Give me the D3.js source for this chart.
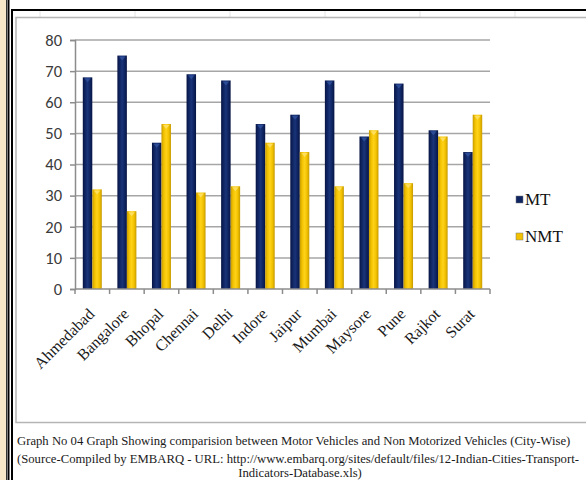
<!DOCTYPE html>
<html>
<head>
<meta charset="utf-8">
<script src="https://cdn.jsdelivr.net/npm/d3@7"></script>
<style>
  html, body { margin: 0; padding: 0; background: #fff; }
  svg { display: block; }
</style>
</head>
<body>
<svg id="chart" width="586" height="480"></svg>
<script>
// City-wise share of motorised (MT) and non-motorised (NMT) trips, in percent
const cities = ["Ahmedabad", "Bangalore", "Bhopal", "Chennai", "Delhi", "Indore",
                "Jaipur", "Mumbai", "Maysore", "Pune", "Rajkot", "Surat"];
const mtValues  = [68, 75, 47, 69, 67, 53, 56, 67, 49, 66, 51, 44];
const nmtValues = [32, 25, 53, 31, 33, 47, 44, 33, 51, 34, 49, 56];
const seriesNames = ["MT", "NMT"];
const yTicks = [0, 10, 20, 30, 40, 50, 60, 70, 80];
const captionLines = [
  "Graph No 04 Graph Showing comparision between Motor Vehicles and Non Motorized Vehicles (City-Wise)",
  "(Source-Compiled by EMBARQ - URL: http://www.embarq.org/sites/default/files/12-Indian-Cities-Transport-",
  "Indicators-Database.xls)"
];

const svg = d3.select("#chart");

// ---- page frame: side strip, double border, chart box ----
svg.append("rect").attr("x", 0).attr("y", 0).attr("width", 6).attr("height", 480).attr("fill", "#f6e7c8");
svg.append("line").attr("x1", 6.5).attr("x2", 6.5).attr("y1", 0).attr("y2", 480).attr("stroke", "#333").attr("stroke-width", 1);
svg.append("line").attr("x1", 8.5).attr("x2", 8.5).attr("y1", 0).attr("y2", 480).attr("stroke", "#000").attr("stroke-width", 2);
svg.append("line").attr("x1", 12).attr("x2", 12).attr("y1", 9).attr("y2", 480).attr("stroke", "#000").attr("stroke-width", 2);
svg.append("line").attr("x1", 11).attr("x2", 586).attr("y1", 10).attr("y2", 10).attr("stroke", "#000").attr("stroke-width", 2);

// faint sheet cell lines behind the chart box
[40, 135, 230, 325, 420, 515].forEach(x => {
  svg.append("line").attr("x1", x).attr("x2", x).attr("y1", 11).attr("y2", 17)
     .attr("stroke", "#e4e4e4").attr("stroke-width", 1);
});

svg.append("rect").attr("x", 16).attr("y", 17.5).attr("width", 580).attr("height", 405)
   .attr("fill", "#fff").attr("stroke", "#b5b5b5").attr("stroke-width", 1.5);

// ---- scales ----
const plot = { left: 75, right: 490, top: 40, bottom: 289 };
const x0 = d3.scaleBand().domain(cities).range([plot.left, plot.right]).padding(0);
const groupW = 19;
const x1 = d3.scaleBand().domain(seriesNames).range([0, groupW]).padding(0);
const y = d3.scaleLinear().domain([0, 80]).range([plot.bottom, plot.top]);

// ---- gradients for the bevelled bars ----
const defs = svg.append("defs");
function barGradient(id, edge, mid, light) {
  const g = defs.append("linearGradient").attr("id", id).attr("x1", "0").attr("x2", "1").attr("y1", "0").attr("y2", "0");
  g.append("stop").attr("offset", "0%").attr("stop-color", edge);
  g.append("stop").attr("offset", "25%").attr("stop-color", mid);
  g.append("stop").attr("offset", "50%").attr("stop-color", light);
  g.append("stop").attr("offset", "75%").attr("stop-color", mid);
  g.append("stop").attr("offset", "100%").attr("stop-color", edge);
}
barGradient("gradMT", "#071444", "#0f2562", "#1a3478");
barGradient("gradNMT", "#c69a00", "#f2c200", "#ffd21a");
const fills = { MT: "url(#gradMT)", NMT: "url(#gradNMT)" };
const capFill = { MT: "#2f4f9a", NMT: "#ffe066" };
const legendFill = { MT: "#0f2562", NMT: "#f2c200" };

// ---- gridlines ----
svg.append("g").selectAll("line").data(yTicks.filter(t => t > 0)).join("line")
  .attr("x1", plot.left).attr("x2", plot.right)
  .attr("y1", d => y(d)).attr("y2", d => y(d))
  .attr("stroke", "#a6a6a6").attr("stroke-width", 1.5);

// ---- y axis ----
const yAxis = svg.append("g").attr("transform", `translate(${plot.left},0)`)
  .call(d3.axisLeft(y).tickValues(yTicks).tickSize(5).tickPadding(8));
yAxis.select(".domain").attr("stroke", "#8c8c8c").attr("stroke-width", 1.5);
yAxis.selectAll(".tick line").attr("stroke", "#8c8c8c").attr("stroke-width", 1.5);
yAxis.selectAll("text").attr("font-family", "Carlito, 'Open Sans', 'DejaVu Sans', sans-serif")
  .attr("font-size", 16.5).attr("fill", "#3a3a3a");

// ---- bars ----
const rows = cities.map((c, i) => ({ city: c, MT: mtValues[i], NMT: nmtValues[i] }));
const groups = svg.append("g").selectAll("g").data(rows).join("g")
  .attr("transform", d => `translate(${x0(d.city) + (x0.bandwidth() - groupW) / 2},0)`);

const bars = groups.selectAll("g").data(d => seriesNames.map(k => ({ key: k, value: d[k] }))).join("g");
bars.append("rect")
  .attr("x", d => x1(d.key))
  .attr("y", d => y(d.value))
  .attr("width", x1.bandwidth())
  .attr("height", d => y(0) - y(d.value))
  .attr("fill", d => fills[d.key]);
// small bevel cap on top of each bar
bars.append("path")
  .attr("d", d => {
    const bx = x1(d.key), bw = x1.bandwidth(), by = y(d.value);
    return `M${bx + 1.5},${by + 1} L${bx + bw - 1.5},${by + 1} L${bx + bw / 2},${by + 5} Z`;
  })
  .attr("fill", d => capFill[d.key]).attr("opacity", 0.9);

// ---- x axis ----
const xAxis = svg.append("g").attr("transform", `translate(0,${plot.bottom})`);
xAxis.append("line").attr("x1", plot.left).attr("x2", plot.right).attr("y1", 0).attr("y2", 0)
  .attr("stroke", "#8c8c8c").attr("stroke-width", 1.5);
const boundaries = cities.map(c => x0(c)).concat([plot.right]);
xAxis.selectAll("line.tk").data(boundaries).join("line").attr("class", "tk")
  .attr("x1", d => d).attr("x2", d => d).attr("y1", 0).attr("y2", 5)
  .attr("stroke", "#8c8c8c").attr("stroke-width", 1.5);
xAxis.selectAll("text").data(cities).join("text")
  .attr("transform", d => `translate(${x0(d) + x0.bandwidth() / 2 + 3},${26}) rotate(-45)`)
  .attr("text-anchor", "end")
  .attr("font-family", "'Liberation Serif', 'Times New Roman', serif")
  .attr("font-size", 16).attr("fill", "#1a1a1a")
  .text(d => d);

// ---- legend ----
const legend = svg.append("g").selectAll("g").data(seriesNames).join("g")
  .attr("transform", (d, i) => `translate(516,${196 + i * 37})`);
legend.append("rect").attr("width", 7).attr("height", 7)
  .attr("fill", d => legendFill[d]).attr("stroke", "#777").attr("stroke-width", 0.5);
legend.append("text").attr("x", 9).attr("y", 8.5)
  .attr("font-family", "'Liberation Serif', 'Times New Roman', serif")
  .attr("font-size", 17).attr("fill", "#111")
  .text(d => d);

// ---- caption ----
const cap = svg.append("g").attr("font-family", "'Liberation Serif', 'Times New Roman', serif")
  .attr("font-size", 12.7).attr("fill", "#1a1a1a");
cap.append("text").attr("x", 17).attr("y", 445).text(captionLines[0]);
cap.append("text").attr("x", 17).attr("y", 463).text(captionLines[1]);
cap.append("text").attr("x", 300).attr("y", 477).attr("text-anchor", "middle").text(captionLines[2]);
</script>
</body>
</html>
